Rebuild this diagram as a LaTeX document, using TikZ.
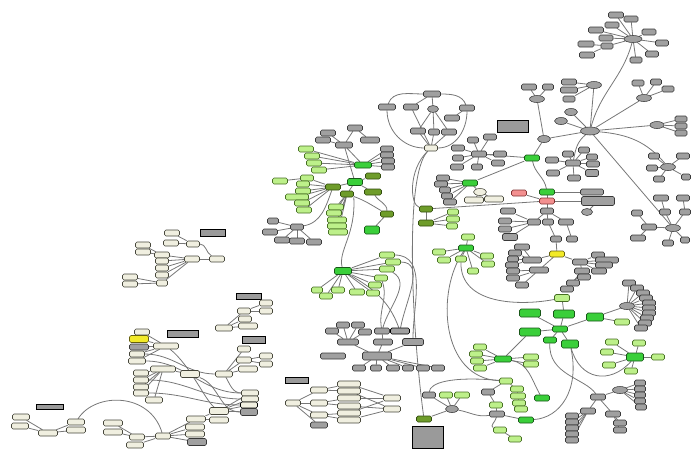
\documentclass[tikz,border=0pt]{standalone}
\usetikzlibrary{shapes.geometric}
\definecolor{cGr}{HTML}{A0A0A0}\definecolor{cGrD}{HTML}{383838}
\definecolor{cLg}{HTML}{BDF08A}\definecolor{cLgD}{HTML}{466E22}
\definecolor{cGn}{HTML}{3ACF3A}\definecolor{cGnD}{HTML}{185618}
\definecolor{cOl}{HTML}{6E9C2A}\definecolor{cOlD}{HTML}{304A0C}
\definecolor{cCr}{HTML}{F0EFE0}\definecolor{cCrD}{HTML}{45453A}
\definecolor{cPk}{HTML}{F39090}\definecolor{cPkD}{HTML}{803030}
\definecolor{cYe}{HTML}{F2EA28}\definecolor{cYeD}{HTML}{66600E}
\definecolor{cTi}{HTML}{9A9A9A}\definecolor{cEd}{HTML}{777777}
\pgfdeclarelayer{bg}\pgfsetlayers{bg,main}
\tikzset{
 base/.style={rounded corners=1.6pt,minimum height=6pt,inner sep=0pt,line width=0.55pt},
 gr/.style={base,fill=cGr,draw=cGrD},
 ge/.style={gr,ellipse,minimum height=7pt},
 lg/.style={base,fill=cLg,draw=cLgD},
 gn/.style={base,fill=cGn,draw=cGnD},
 ol/.style={base,fill=cOl,draw=cOlD},
 cr/.style={base,fill=cCr,draw=cCrD},
 ce/.style={cr,ellipse,minimum height=7pt},
 pk/.style={base,fill=cPk,draw=cPkD},
 ye/.style={base,fill=cYe,draw=cYeD},
 ti/.style={base,rounded corners=0pt,fill=cTi,draw=black,line width=0.7pt},
 ed/.style={draw=cEd,line width=0.8pt},
}
\newcommand\N[5][]{\node[#2,minimum width=#5pt+1pt,#1] (#3) at (#4) {};}
\newcommand\E[1]{\foreach \a/\b in {#1} {\draw[ed] (\a) -- (\b);}}
\begin{document}
\begin{tikzpicture}[x=1pt,y=-1pt]
\useasboundingbox (0,0) rectangle (691,448);
% ---------- top right
\N{ge}{T0}{633,39}{17}
\N{gr}{T1}{616,15}{14}\N{gr}{T2}{631,19}{13}\N{gr}{T3}{612,25}{13}\N{gr}{T4}{596,30}{14}
\N{gr}{T5}{606,38}{13}\N{gr}{T6}{649,32}{13}\N{gr}{T7}{586,44}{15}\N{gr}{T8}{607,46}{11}
\N{gr}{T9}{662,43}{12}\N{gr}{T10}{587,55}{14}\N{gr}{T11}{652,54}{12}\N{gr}{T12}{636,60}{11}
\N[minimum height=8pt]{ge}{H}{590,131}{18}
\N{ge}{A0}{594,85}{14}\N{gr}{A1}{569,82}{14}\N{gr}{A2}{569,90}{16}\N{gr}{A3}{569,99}{11}
\N{ge}{B0}{644,98}{14}\N{gr}{B1}{638,83}{11}\N{gr}{B2}{656,82}{10}\N{gr}{B3}{668,89}{11}
\N{ge}{C0}{657,125}{13}\N{gr}{C1}{681,119}{11}\N{gr}{C2}{681,126}{11}\N{gr}{C3}{681,133}{11}
\N{ge}{D1}{571,112}{12}\N{ge}{D2}{561,121}{12}
\N{ge}{E0}{668,167}{14}\N{gr}{E1}{654,156}{10}\N{gr}{E2}{683,156}{12}\N{gr}{E3}{652,168}{10}
\N{gr}{E4}{659,179}{10}\N{gr}{E5}{686,177}{8}
\N{gr}{F0}{573,163}{14}\N{gr}{F1}{568,154}{10}\N{gr}{F2}{584,150}{10}\N{gr}{F3}{592,157}{10}
\N{gr}{F4}{593,164}{12}\N[minimum height=7pt]{gr}{F5}{592,173}{12}\N{gr}{F6}{574,178}{12}
\N{gr}{F7}{552,160}{12}\N{gr}{F8}{553,173}{12}
\N{ge}{G0}{673,228}{14}\N{gr}{G1}{661,198}{14}\N{gr}{G2}{683,198}{12}\N{gr}{G3}{665,212}{10}
\N{gr}{G4}{685,212}{10}\N{gr}{G5}{649,227}{14}\N{gr}{G6}{637,213}{10}\N{gr}{G7}{638,238}{14}
\N{gr}{G8}{668,243}{10}\N{gr}{G9}{685,240}{8}
\N{gr}{P1}{529,87}{14}\N{gr}{P2}{548,87}{10}\N{ge}{P0}{537,99}{14}\N{ge}{X}{544,139}{12}
\N[minimum height=12pt]{ti}{TT1}{513,126}{30}
\N{gn}{K1}{532,158}{14}\N{gn}{K2}{547,192}{14}\N{pk}{Q1}{547,201}{14}\N{pk}{Q2}{519,193}{14}
\N{gr}{R1}{592,192}{22}\N[minimum height=9pt]{gr}{R2}{598,201}{32}\N{ge}{R3}{587,212}{10}
\N{gr}{S0}{547,211}{12}\N{gr}{S1}{534,222}{12}\N{gr}{S2}{548,222}{10}\N{gr}{S3}{566,222}{14}
\N{gr}{S4}{508,211}{14}\N{gr}{S5}{505,221}{12}\N{gr}{S6}{505,229}{12}\N[minimum height=7pt]{gr}{S10}{510,237}{14}
\N{gr}{S7}{556,239}{10}\N{gr}{S8}{572,239}{10}
% ---------- yellow cluster
\N{ye}{Y}{557,254}{14}
\N{gr}{YA}{532,260}{18}\N{gr}{YA1}{522,247}{14}\N{gr}{YA2}{515,253}{12}\N{gr}{YA3}{513,259}{10}\N{gr}{YA4}{512,265}{12}
\N{gr}{YB}{539,270}{18}\N{gr}{YB1}{513,271}{12}\N{gr}{YB2}{513,278}{12}\N{gr}{YB3}{522,285}{12}
\N{gr}{YC}{580,262}{14}\N{gr}{YC1}{598,255}{12}\N{gr}{YC2}{607,260}{22}\N{gr}{YC3}{604,265}{16}\N{gr}{YC4}{599,271}{14}
\N{gr}{YD}{582,271}{14}\N{gr}{YD1}{584,277}{12}\N{gr}{YD2}{573,283}{12}\N{gr}{YD3}{567,289}{12}
% ---------- top loop
\N{gr}{U0}{432,94}{16}\N{gr}{U1}{387,107}{16}\N{gr}{U2}{411,107}{14}\N{ge}{U3}{433,109}{10}
\N{gr}{U4}{467,108}{14}\N{gr}{U5}{452,118}{14}\N{gr}{U6}{418,131}{14}\N{gr}{U7}{434,132}{10}
\N{gr}{U8}{449,132}{14}\N{cr}{W}{431,148}{12}
% ---------- M / L / O clusters
\N{gr}{M0}{479,154}{14}\N{gr}{M1}{458,148}{12}\N{gr}{M2}{490,137}{12}\N{gr}{M3}{500,154}{12}
\N{gr}{M4}{458,158}{10}\N{gr}{M5}{457,167}{12}\N{gr}{M6}{477,167}{10}\N{gr}{M7}{498,163}{12}\N{gr}{M8}{473,140}{10}
\N{gn}{L0}{470,183}{14}\N{gr}{L1}{443,178}{12}\N{gr}{L2}{441,184}{12}\N{gr}{L3}{445,190}{10}
\N{gr}{L4}{447,196}{10}\N{gr}{L5}{450,202}{12}\N{ce}{L6}{480,192}{12}\N{cr}{L7}{474,200}{18}\N{cr}{L8}{494,199}{18}
\N{ol}{O1}{426,209}{12}\N{ol}{O2}{426,223}{14}\N{lg}{O3}{453,212}{10}\N{lg}{O4}{453,219}{12}\N{lg}{O5}{452,226}{10}
\N{gn}{N0}{466,248}{14}\N{lg}{N1}{468,237}{12}\N{lg}{N2}{439,252}{12}\N{lg}{N3}{444,260}{12}
\N{lg}{N4}{461,259}{10}\N{lg}{N5}{487,256}{12}\N{lg}{N6}{488,264}{12}\N{lg}{N7}{473,271}{10}
% ---------- Z hub
\N{gn}{Z0}{560,329}{14}\N[minimum height=8pt]{gn}{Z1}{530,313}{20}\N[minimum height=8pt]{gn}{Z2}{564,314}{20}
\N[minimum height=8pt]{gn}{Z3}{595,317}{16}\N[minimum height=8pt]{gn}{Z4}{530,332}{20}\N{gn}{Z5}{550,340}{12}
\N[minimum height=8pt]{gn}{Z6}{570,344}{16}\N[minimum height=7pt]{lg}{Z7}{562,298}{14}\N{lg}{Z8}{622,322}{14}
\N{ge}{V0}{627,306}{14}
\N{gr}{V1}{629,283}{12}\N{gr}{V2}{637,288}{12}\N{gr}{V3}{643,293}{12}\N{gr}{V4}{646,298}{12}\N{gr}{V5}{649,303}{12}
\N{gr}{V6}{649,308}{12}\N{gr}{V7}{649,313}{12}\N{gr}{V8}{647,318}{12}\N{gr}{V9}{645,323}{12}\N{gr}{V10}{641,328}{12}
\N[minimum height=8pt]{gn}{AA0}{635,357}{16}\N{lg}{AA1}{612,342}{12}\N{lg}{AA2}{607,352}{12}\N{lg}{AA3}{609,365}{12}
\N{lg}{AA4}{631,371}{12}\N{lg}{AA5}{639,343}{12}\N{lg}{AA6}{658,357}{12}
\N{gn}{BB0}{503,359}{16}\N{lg}{BB1}{480,347}{12}\N{lg}{BB2}{476,354}{12}\N{lg}{BB3}{477,361}{12}
\N{lg}{BB4}{480,368}{12}\N{lg}{BB5}{531,357}{14}\N{lg}{BB6}{531,364}{14}
\N{gn}{CC}{542,398}{14}\N{gn}{EE}{526,420}{14}
\N{lg}{FF0}{506,381}{12}\N{gr}{FF1}{488,392}{12}\N{lg}{FF2}{517,389}{12}\N{lg}{FF3}{518,396}{14}
\N{lg}{FF4}{519,403}{12}\N{lg}{FF5}{521,409}{12}\N{lg}{FF6}{496,405}{12}\N{gr}{FF7}{497,414}{14}
\N{lg}{FF8}{500,430}{12}\N{lg}{FF9}{515,439}{12}
\N{gr}{GG1}{429,395}{12}\N{lg}{GG2}{446,395}{12}\N{lg}{GG3}{462,395}{14}\N{ge}{GG0}{452,409}{12}
\N{ol}{GG4}{424,419}{14}\N[minimum height=22pt]{ti}{GG5}{428,437}{30}
\N{gr}{DD0}{598,397}{14}\N{gr}{DD1}{588,411}{14}
\N{gr}{DD2}{572,416}{12}\N{gr}{DD3}{572,422}{12}\N{gr}{DD4}{572,428}{12}\N{gr}{DD5}{572,434}{12}\N{gr}{DD6}{572,440}{12}
\N{gr}{DD7}{613,414}{14}\N{gr}{DD8}{620,423}{12}\N{gr}{DD9}{620,430}{12}\N{ge}{DD10}{620,390}{14}
\N{gr}{DD11}{640,383}{10}\N{gr}{DD12}{640,389}{10}\N{gr}{DD13}{640,395}{10}\N{gr}{DD14}{640,401}{10}\N{gr}{DD15}{641,407}{10}
% ---------- left middle
\N{gr}{LA1}{328,133}{14}\N{gr}{LA2}{355,128}{14}\N{gr}{LA3}{323,140}{14}\N{gr}{LA4}{344,145}{16}\N{gr}{LA5}{370,140}{18}
\N{gn}{LB0}{363,165}{16}\N{lg}{LB1}{306,149}{14}\N{lg}{LB2}{312,156}{14}\N{lg}{LB3}{314,163}{14}\N{lg}{LB4}{319,170}{14}
\N{gr}{LB5}{387,149}{12}\N{gr}{LB6}{387,155}{12}\N{gr}{LB7}{388,161}{12}\N{gr}{LB8}{388,167}{12}
\N[minimum height=7pt]{gn}{LC0}{355,182}{14}\N{ol}{LC1}{373,176}{14}\N{ol}{LC2}{373,192}{16}
\N{ol}{LD0}{333,187}{14}\N{lg}{LD1}{307,178}{12}\N{lg}{LD2}{303,184}{12}\N{lg}{LD3}{303,191}{14}
\N{lg}{LD4}{297,197}{22}\N{lg}{LD5}{302,203}{14}\N{lg}{LD6}{304,210}{14}\N{lg}{LD7}{280,181}{14}
\N{ol}{LE0}{347,194}{12}\N{lg}{LE1}{336,207}{14}\N{lg}{LE2}{334,213}{14}\N{lg}{LE3}{337,220}{18}
\N{lg}{LE4}{337,226}{18}\N{lg}{LE5}{338,232}{18}
\N{ol}{LF0}{387,214}{12}\N[minimum height=8pt]{gn}{LF1}{372,230}{14}
\N{gr}{LG0}{297,227}{12}\N{gr}{LG1}{273,221}{10}\N{gr}{LG2}{270,232}{14}\N{gr}{LG3}{282,240}{14}
\N{gr}{LG4}{297,241}{14}\N{gr}{LG5}{314,242}{14}
\N[minimum height=7pt]{gn}{MA0}{343,271}{16}\N{lg}{MA1}{317,290}{10}\N{lg}{MA2}{326,296}{12}\N{lg}{MA3}{338,290}{12}
\N{lg}{MA4}{357,292}{14}\N{lg}{MA5}{373,293}{12}\N{lg}{MA6}{375,285}{12}\N{lg}{MA7}{381,278}{12}
\N{lg}{MA8}{387,269}{14}\N{lg}{MA9}{393,262}{14}\N{lg}{MA10}{387,255}{14}
\N{gr}{MB1}{382,331}{14}\N[draw=black]{gr}{MB2}{400,331}{18}\N{gr}{MB3}{383,342}{18}\N[minimum height=7pt]{gr}{MB4}{413,342}{20}
\N[minimum height=8pt]{gr}{MC0}{377,356}{28}
\N{gr}{MC1}{359,368}{12}\N{gr}{MC2}{376,368}{10}\N{gr}{MC3}{393,368}{12}\N{gr}{MC4}{408,368}{10}\N{gr}{MC5}{423,368}{12}\N{gr}{MC6}{438,368}{12}
\N{gr}{MD0}{348,342}{20}\N{gr}{MD1}{332,331}{12}\N{gr}{MD2}{343,325}{12}\N{gr}{MD3}{358,325}{12}\N{gr}{MD4}{365,332}{12}
\N{gr}{ME}{333,356}{24}
\N[minimum height=6pt]{ti}{CT}{297,380}{22}
\N{cr}{CA0}{293,403}{14}\N{cr}{CA1}{319,390}{16}\N{cr}{CA2}{319,403}{16}\N{cr}{CA3}{319,415}{16}\N{gr}{CA4}{319,425}{16}
\N{cr}{CB1}{349,384}{22}\N{cr}{CB2}{349,391}{22}\N{cr}{CB3}{349,398}{22}\N{cr}{CB4}{349,406}{22}\N{cr}{CB5}{349,413}{22}\N{cr}{CB6}{349,420}{22}
\N{cr}{CC1}{392,398}{16}\N{cr}{CC2}{392,409}{16}
% ---------- left clusters
\N[minimum height=7pt]{ti}{QAT}{213,233}{24}
\N{cr}{QA1}{172,233}{14}\N{cr}{QA2}{171,243}{14}\N{cr}{QA3}{193,244}{12}\N{cr}{QA4}{143,245}{14}
\N{cr}{QA5}{143,252}{14}\N{cr}{QA6}{162,255}{14}\N{cr}{QA7}{162,261}{12}\N{cr}{QA8}{162,268}{12}
\N{cr}{QA9}{162,275}{12}\N{cr}{QA10}{162,283}{10}\N{cr}{QA11}{192,259}{14}\N{cr}{QA12}{217,259}{14}
\N{cr}{QA13}{130,277}{14}\N{cr}{QA14}{130,284}{14}
\N[minimum height=6pt]{ti}{QBT}{249,296}{24}
\N{cr}{QB1}{266,303}{12}\N{cr}{QB2}{266,311}{12}\N{cr}{QB3}{244,311}{12}\N{cr}{QB4}{245,319}{12}
\N{cr}{QB5}{248,326}{18}\N{cr}{QB6}{224,328}{16}
\N[minimum height=7pt]{ti}{QCT}{183,334}{30}
\N{cr}{QC1}{142,332}{14}\N[minimum height=7pt]{ye}{QC2}{139,339}{18}\N[minimum height=6pt]{gr}{QC3}{139,347}{18}
\N{cr}{QC4}{166,346}{24}\N{cr}{QC5}{137,354}{14}\N{cr}{QC6}{137,361}{16}
\N[minimum height=7pt]{ti}{QDT}{254,340}{22}
\N{cr}{QD1}{244,349}{12}\N{cr}{QD2}{244,360}{14}\N{cr}{QD3}{266,356}{12}\N{cr}{QD4}{266,364}{12}
\N{cr}{QD5}{248,369}{18}\N{cr}{QD6}{224,374}{16}
\N{cr}{QE0}{163,369}{24}\N{cr}{QE1}{141,373}{14}\N{cr}{QE2}{141,380}{14}\N{cr}{QE3}{141,387}{14}
\N{cr}{QE4}{141,393}{14}\N{cr}{QE5}{154,400}{16}\N[minimum height=7pt]{cr}{QE6}{190,374}{18}
\N{cr}{QF1}{250,393}{16}\N{cr}{QF2}{250,399}{16}\N[draw=black]{cr}{QF3}{249,405}{16}\N[minimum height=7pt]{gr}{QF4}{249,412}{16}
\N[minimum height=7pt]{cr}{QG0}{219,411}{18}\N{cr}{QG1}{219,420}{18}
\N{cr}{QH0}{163,436}{14}\N{cr}{QH1}{196,419}{18}\N{cr}{QH2}{195,427}{18}\N{cr}{QH3}{195,434}{18}\N[minimum height=7pt]{gr}{QH4}{197,442}{18}
\N[minimum height=5pt]{ti}{RT}{50,407}{26}
\N{cr}{RA1}{21,417}{16}\N{cr}{RA2}{20,426}{16}\N{cr}{RA0}{48,433}{18}
\N{cr}{RB1}{76,422}{16}\N{cr}{RB2}{76,430}{18}\N{cr}{RC1}{113,423}{18}\N{cr}{RC2}{113,432}{18}
\N{cr}{RD1}{137,437}{14}\N{cr}{RD2}{135,445}{16}
% ================= edges
\begin{pgfonlayer}{bg}
\E{T0/T1,T0/T2,T0/T3,T0/T4,T0/T5,T0/T6,T0/T8,T0/T9,T0/T11,T0/T12,T7/T8,T10/T8}
\draw[ed] (H) to[out=75,in=255] (T0);
\E{A0/A1,A0/A2,A0/A3,A0/H,B0/B1,B0/B2,B0/B3,B0/H,C0/C1,C0/C2,C0/C3,C0/H,H/D1,H/D2}
\E{E0/E1,E0/E2,E0/E3,E0/E4,E0/E5}
\draw[ed] (H) to[out=-5,in=130] (E0);
\draw[ed] (H) to[out=220,in=80] (F0);
\E{F0/F1,F0/F2,F0/F3,F0/F4,F0/F5,F0/F6,F0/F7,F0/F8}
\E{H/G0,G0/G3,G3/G1,G0/G4,G4/G2,G0/G5,G5/G6,G5/G7,G0/G8,G0/G9}
\E{P0/P1,P0/P2,X/P0,X/H,X/K1}
\draw[ed] (K1) to[out=-80,in=100] (K2);
\E{K2/R1,Q2/Q1,Q1/R2,K2/Q1,Q1/S0,S0/S1,S0/S2,S0/S3,S1/S4,S1/S5,S1/S6,S1/S10,S2/S7,S3/S8,R2/R3}
\E{Y/S7,Y/YA,YA/YA1,YA/YA2,YA/YA3,YA/YA4,Y/YB,YB/YB1,YB/YB2,YB/YB3,Y/YC,YC/YC1,YC/YC2,YC/YC3,YC/YC4,YC/YD,YD/YD1,YD/YD2,YD/YD3}
\draw[ed] (U0) to[out=180,in=70] (U1);
\draw[ed] (U0) to[out=0,in=110] (U4);
\E{U0/U2,U0/U3,U3/U6,U3/U7,U3/U8,U4/U5,U2/W,U6/W,U7/W,U8/W}
\draw[ed] (U1) to[out=-90,in=180] (W);
\draw[ed] (U4) to[out=-90,in=0] (W);
\draw[ed] (W) .. controls (404,175) and (412,330) .. (GG4);
\draw[ed] (W) .. controls (408,170) and (410,205) .. (O1);
\E{M0/M1,M0/M2,M0/M3,M0/M4,M0/M5,M0/M6,M0/M7,M0/M8,M0/K1}
\E{L0/L1,L0/L2,L0/L3,L0/L4,L0/L5,L0/L6,L6/L7,L6/L8,L0/K1}
\E{O1/O2,O2/O3,O2/O4,O2/O5,O1/Q1}
\E{N0/N1,N0/N2,N0/N3,N0/N4,N0/N5,N0/N6,N0/N7}
\draw[ed] (N0) .. controls (436,290) and (440,378) .. (FF0);
\draw[ed] (N4) .. controls (460,305) and (520,306) .. (Z7);
\E{Z0/Z1,Z0/Z2,Z0/Z3,Z0/Z4,Z0/Z5,Z0/Z6,Z2/Z7,Z3/Z8,Z3/V0}
\E{V0/V1,V0/V2,V0/V3,V0/V4,V0/V5,V0/V6,V0/V7,V0/V8,V0/V9,V0/V10}
\E{AA0/AA1,AA0/AA2,AA0/AA3,AA0/AA4,AA0/AA5,AA0/AA6}
\draw[ed] (Z6) .. controls (580,380) and (610,385) .. (AA0);
\E{Z4/BB0,BB0/BB1,BB0/BB2,BB0/BB3,BB0/BB4,BB0/BB5,BB0/BB6}
\draw[ed] (BB0) to[out=-10,in=120] (CC);
\draw[ed] (Z5) .. controls (548,375) and (585,378) .. (DD0);
\draw[ed] (Z6) .. controls (580,390) and (560,418) .. (EE);
\E{FF0/FF1,FF0/FF2,FF2/FF3,FF3/FF4,FF4/FF5,FF1/FF6,FF6/FF7,FF7/EE}
\draw[ed] (FF7) to[out=-100,in=160] (FF8);
\E{FF8/FF9}
\draw[ed] (FF7) to[out=190,in=-10] (GG0);
\draw[ed] (FF0) .. controls (450,376) and (430,383) .. (GG1);
\E{GG0/GG1,GG0/GG2,GG0/GG3,GG0/GG4}
\E{DD0/DD1,DD1/DD2,DD1/DD3,DD1/DD4,DD1/DD5,DD1/DD6,DD0/DD7,DD7/DD8,DD7/DD9,DD0/DD10}
\E{DD10/DD11,DD10/DD12,DD10/DD13,DD10/DD14,DD10/DD15}
% left middle
\E{LA1/LA4,LA3/LA4,LA2/LA4,LA2/LA5,LA4/LB0}
\E{LB0/LB1,LB0/LB2,LB0/LB3,LB0/LB4,LB0/LB5,LB0/LB6,LB0/LB7,LB0/LB8}
\E{LC0/LC1,LC0/LC2,LA4/LC0,LD0/LC0,LE0/LC0}
\E{LD0/LD1,LD0/LD2,LD0/LD3,LD0/LD4,LD0/LD5,LD0/LD6,LD1/LD7}
\E{LE0/LE1,LE0/LE2,LE0/LE3,LE0/LE4,LE0/LE5,LF0/LF1}
\draw[ed] (LC2) to[out=-60,in=90] (LF0);
\draw[ed] (LE0) to[out=-20,in=150] (LF0);
\E{LG0/LG1,LG0/LG2,LG0/LG3,LG0/LG4,LG0/LG5}
\draw[ed] (LG0) to[out=10,in=-110] (LD0);
\draw[ed] (LE0.south east) .. controls (356,235) and (338,250) .. (MA0);
\E{MA0/MA1,MA0/MA2,MA0/MA3,MA0/MA4,MA0/MA5,MA0/MA6,MA0/MA7,MA0/MA8,MA0/MA9,MA0/MA10}
\draw[ed] (MA10) to[out=0,in=90] (MB4);
\draw[ed] (MA9) to[out=0,in=80] (MB2);
\draw[ed] (MA8) to[out=-30,in=75] (MB1);
\draw[ed] (MA7) to[out=-70,in=100] (MB1);
\draw[ed] (MA0) to[out=-30,in=110] (MB2);
\E{MB1/MB3,MC0/MB3,MC0/MB4,MC0/MD0,MD0/MD1,MD0/MD2,MD0/MD3,MD0/MD4}
\E{MC0/MC1,MC0/MC2,MC0/MC3,MC0/MC4,MC0/MC5,MC0/MC6}
\E{CA0/CA1,CA0/CA2,CA0/CA3,CA0/CA4,CA1/CB1,CA1/CB2,CA2/CB3,CA2/CB4,CA3/CB5,CA3/CB6}
\E{CB1/CC1,CB2/CC2,CB3/CC1,CB4/CC2,CB5/CC1,CB6/CC2}
% left clusters
\E{QA1/QA3,QA2/QA3,QA11/QA12,QA4/QA6,QA5/QA6,QA6/QA11,QA7/QA11,QA8/QA11,QA9/QA11,QA10/QA11,QA13/QA10,QA14/QA10}
\draw[ed] (QA3) to[out=0,in=150] (QA12);
\E{QB3/QB1,QB3/QB2,QB6/QB3,QB6/QB4,QB6/QB5}
\E{QC4/QC1,QC4/QC2,QC4/QC3,QC4/QC5,QC4/QC6}
\E{QD6/QD1,QD6/QD2,QD6/QD5,QD2/QD3,QD2/QD4}
\E{QE0/QE1,QE0/QE2,QE0/QE3,QE0/QE4,QE0/QE5,QE0/QE6}
\draw[ed] (QC5) to[out=0,in=180] (QD6);
\draw[ed] (QC6) to[out=0,in=180] (QF1);
\draw[ed] (QE2) to[out=0,in=180] (QF2);
\draw[ed] (QE4) to[out=0,in=180] (QF3);
\draw[ed] (QC4) .. controls (190,365) and (205,400) .. (QG0);
\draw[ed] (QD6) to[out=-60,in=180] (QF1);
\draw[ed] (QE6) to[out=-20,in=180] (QF4);
\E{QG0/QF1,QG0/QF2,QG0/QF3,QG0/QF4,QH1/QG0,QH0/QH1,QH0/QH2,QH0/QH3,QH0/QH4,QG1/QH1}
\draw[ed] (RB1) .. controls (95,392) and (150,392) .. (QH0);
\E{RA0/RA1,RA0/RA2,RA0/RB1,RA0/RB2,RC1/RD1,RC2/RD1,RD1/QH0,RD2/QH0}
\end{pgfonlayer}
\end{tikzpicture}
\end{document}
